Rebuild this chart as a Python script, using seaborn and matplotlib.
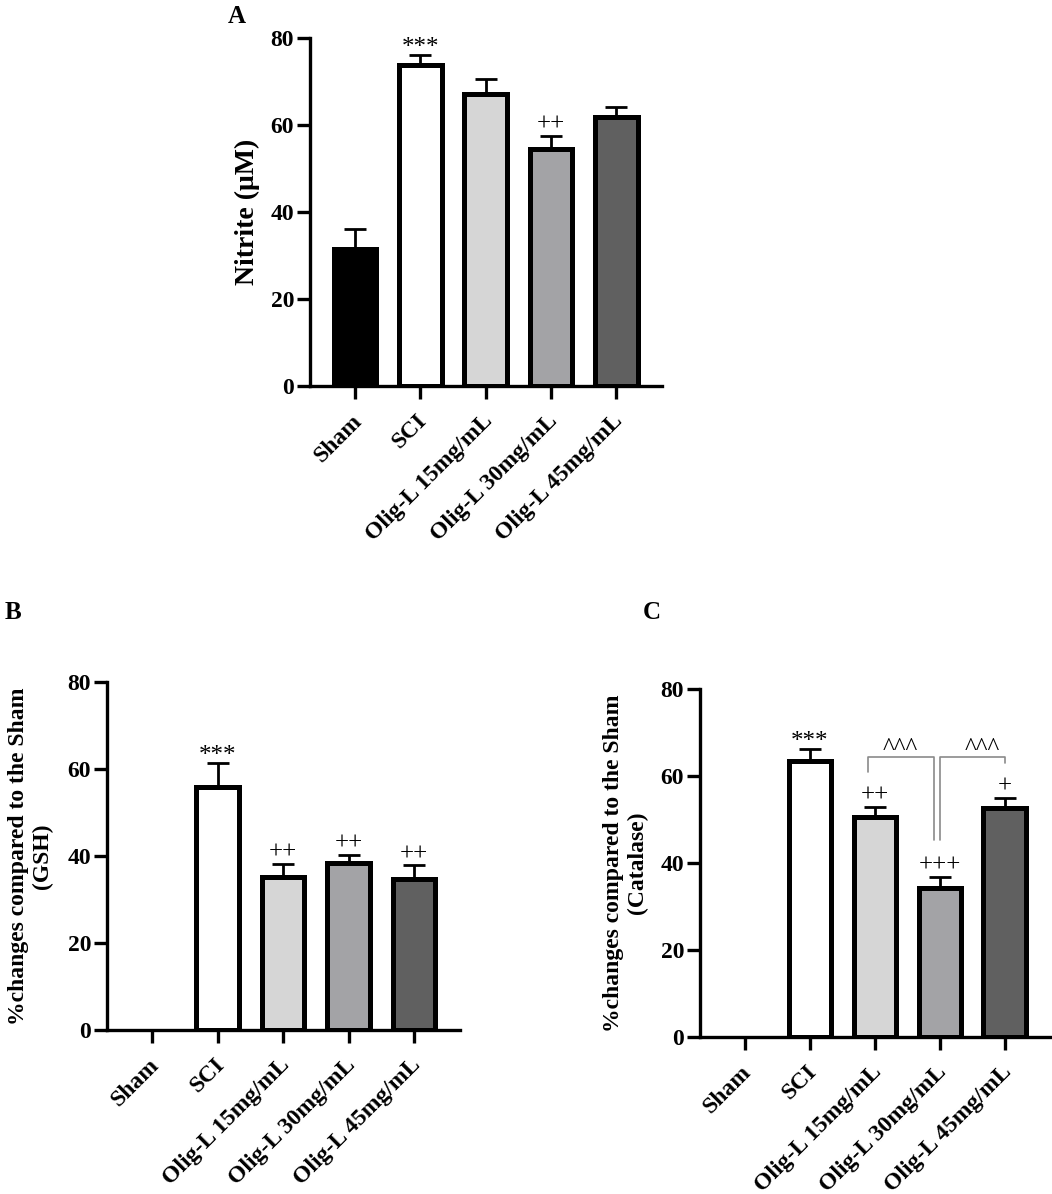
import matplotlib
matplotlib.use("Agg")
import matplotlib.pyplot as plt
import matplotlib.transforms as mtransforms
import seaborn as sns
import pandas as pd

sns.set_style("ticks")
plt.rcParams['font.family'] = ['Liberation Serif', 'DejaVu Serif']
plt.rcParams.update({"text.color": "black", "axes.labelcolor": "black",
                     "xtick.color": "black", "ytick.color": "black",
                     "axes.edgecolor": "black"})

# group names and colours
groups = ["Sham", "SCI", "Olig-L 15mg/mL", "Olig-L 30mg/mL", "Olig-L 45mg/mL"]
bar_colors = ["#000000", "#ffffff", "#d6d6d6", "#a3a3a7", "#606060"]

# panel A: nitrite
nitrite_mean = [31.6, 73.8, 67.1, 54.5, 61.9]
nitrite_sem = [4.5, 2.3, 3.5, 3.0, 2.2]
nitrite_marks = ["", "***", "", "++", ""]

# panel B: GSH (% change vs sham)
gsh_mean = [0, 55.9, 35.2, 38.4, 34.8]
gsh_sem = [0, 5.5, 3.0, 1.8, 3.0]
gsh_marks = ["", "***", "++", "++", "++"]

# panel C: catalase (% change vs sham)
cat_mean = [0, 63.4, 50.6, 34.3, 52.6]
cat_sem = [0, 2.8, 2.3, 2.5, 2.3]
cat_marks = ["", "***", "++", "+++", "+"]

FS = 17
BAR_LW = 3.6
AX_LW = 2.4


def draw_panel(ax, means, sems, marks, ylabel, label_x, label_fs=FS):
    df = pd.DataFrame({"group": groups, "value": means})
    sns.barplot(data=df, x="group", y="value", hue="group", palette=dict(zip(groups, bar_colors)),
                order=groups, hue_order=groups, width=0.65, edgecolor="black",
                linewidth=BAR_LW, errorbar=None, legend=False, ax=ax, zorder=2)
    # zero-height bars leave no outline in the original
    for p in ax.patches:
        if p.get_height() == 0:
            p.set_linewidth(0)

    pos = [i for i, s in enumerate(sems) if s > 0]
    ax.errorbar(pos, [means[i] for i in pos], yerr=[[0] * len(pos), [sems[i] for i in pos]],
                fmt="none", ecolor="black", elinewidth=2.0, capsize=7.6, capthick=2.0, zorder=1)
    for i, m in enumerate(marks):
        if not m:
            continue
        off = 0.3 if "*" in m else 1.2
        ax.text(i, means[i] + sems[i] + off, m, ha="center", va="baseline",
                fontsize=18, color="black")

    ax.set_xlim(-0.69, 4.7)
    ax.set_ylim(0, 80)
    ax.set_yticks([0, 20, 40, 60, 80])
    ax.set_xlabel("")
    ax.set_ylabel(ylabel, fontsize=label_fs, fontweight="bold", linespacing=1.15)
    ax.yaxis.set_label_coords(label_x, 0.5)
    sns.despine(ax=ax)
    for side in ["left", "bottom"]:
        ax.spines[side].set_linewidth(AX_LW)
    ax.tick_params(axis="both", length=9.5, width=AX_LW, labelsize=FS, pad=2)
    for t in ax.get_yticklabels():
        t.set_fontweight("bold")
    ax.tick_params(axis="x", pad=8)
    shift = mtransforms.ScaledTranslation(-4 / 100, 0, ax.figure.dpi_scale_trans)
    for t in ax.get_xticklabels():
        t.set_fontweight("bold")
        t.set_rotation(45)
        t.set_ha("right")
        t.set_va("top")
        t.set_rotation_mode("anchor")
        t.set_transform(t.get_transform() + shift)


fig = plt.figure(figsize=(10.52, 11.94), dpi=100)

ax_a = fig.add_axes([0.2947, 0.6767, 0.3346, 0.2915])
ax_b = fig.add_axes([0.1017, 0.1374, 0.3356, 0.2915])
ax_c = fig.add_axes([0.6654, 0.1315, 0.3327, 0.2915])

draw_panel(ax_a, nitrite_mean, nitrite_sem, nitrite_marks, "Nitrite (\u03bcM)", -0.142, label_fs=20)
draw_panel(ax_b, gsh_mean, gsh_sem, gsh_marks, "%changes compared to the Sham\n(GSH)", -0.153)
draw_panel(ax_c, cat_mean, cat_sem, cat_marks, "%changes compared to the Sham\n(Catalase)", -0.149)

# comparison brackets between Olig-L groups in panel C
br_y = 64.4
gray = "#8a8a8a"
ax_c.plot([1.9, 1.9, 2.92, 2.92], [61.0, br_y, br_y, 45.3], color=gray, lw=1.2, zorder=3)
ax_c.plot([3.0, 3.0, 4.0, 4.0], [45.3, br_y, br_y, 63.0], color=gray, lw=1.2, zorder=3)
ax_c.text(2.4, br_y + 0.4, "^^^", ha="center", va="baseline", fontsize=18)
ax_c.text(3.65, br_y + 0.4, "^^^", ha="center", va="baseline", fontsize=18)

# panel letters
fig.text(0.225, 0.986, "A", fontsize=18, fontweight="bold", ha="center", va="center")
fig.text(0.012, 0.4874, "B", fontsize=18, fontweight="bold", ha="center", va="center")
fig.text(0.62, 0.4874, "C", fontsize=18, fontweight="bold", ha="center", va="center")

fig.savefig("out.png", dpi=100)
